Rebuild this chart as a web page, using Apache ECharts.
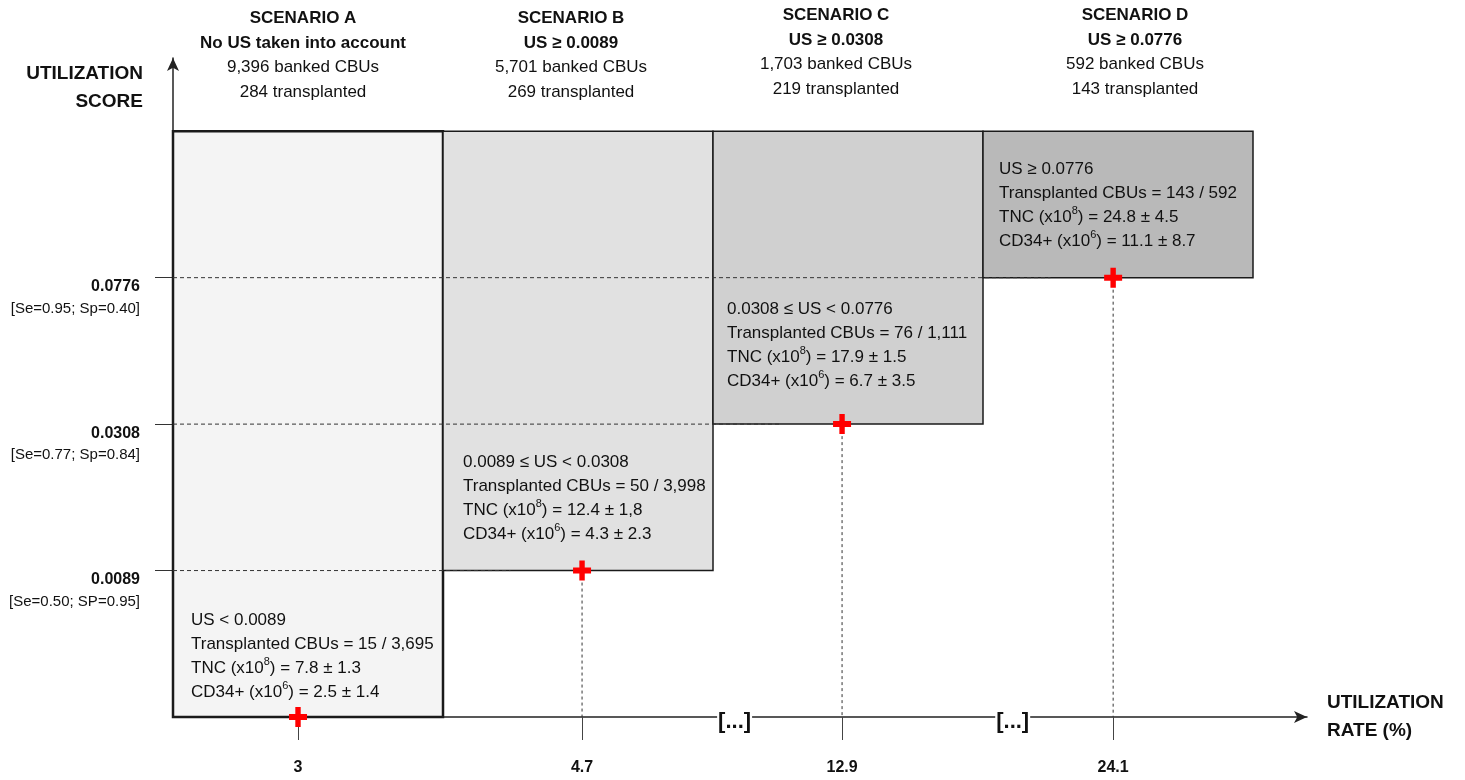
<!DOCTYPE html>
<html><head><meta charset="utf-8">
<script src="https://cdn.jsdelivr.net/npm/echarts@6/dist/echarts.min.js"></script>
<style>html,body{margin:0;padding:0;background:#fff}#c{width:1465px;height:780px}</style>
</head><body><div id="c"></div>
<script>
// ---------------- data ----------------
const scenarioNames = ['SCENARIO A', 'SCENARIO B', 'SCENARIO C', 'SCENARIO D'];
const scenarioRules = ['No US taken into account', 'US ≥ 0.0089', 'US ≥ 0.0308', 'US ≥ 0.0776'];
const bankedCBUs = [9396, 5701, 1703, 592];
const transplantedCBUs = [284, 269, 219, 143];
const utilizationRate = [3, 4.7, 12.9, 24.1];
const rateLabels = ['3', '4.7', '12.9', '24.1'];
const usThresholds = [0.0089, 0.0308, 0.0776];
const thresholdLabels = ['0.0089', '0.0308', '0.0776'];
const thresholdMetrics = ['[Se=0.50; SP=0.95]', '[Se=0.77; Sp=0.84]', '[Se=0.95; Sp=0.40]'];
const stratumRanges = ['US < 0.0089', '0.0089 ≤ US < 0.0308', '0.0308 ≤ US < 0.0776', 'US ≥ 0.0776'];
const stratumTransplanted = [15, 50, 76, 143];
const stratumBanked = [3695, 3998, 1111, 592];
const tncMean = ['7.8', '12.4', '17.9', '24.8'];
const tncSd = ['1.3', '1,8', '1.5', '4.5'];
const cd34Mean = ['2.5', '4.3', '6.7', '11.1'];
const cd34Sd = ['1.4', '2.3', '3.5', '8.7'];

// ---------------- layout / style ----------------
const boxFills = ['#f4f4f4', '#e1e1e1', '#d0d0d0', '#b9b9b9'];
const TEXT_DX = [18, 20, 14, 16];
const TEXT_DY = [25, 36, 43, 36];
const HEAD_DX = [-5, -7, -12, 17];
const HEAD_DY = [0, 0, -3, -3];
const RATE_SHIFT = [-0.037, 0.015, -0.022, -0.018];
const TOP_LEVEL = usThresholds.length + 1;
const BREAKS = [2.08, 3.11];

const cv = document.createElement('canvas').getContext('2d');
cv.font = "40px 'Liberation Sans Narrow', monospace";
const w1 = cv.measureText('Transplanted CBUs 0123').width;
cv.font = "40px monospace";
const w2 = cv.measureText('Transplanted CBUs 0123').width;
const NARROW = Math.abs(w1 - w2) > 0.5;
const FONT = NARROW ? "'Liberation Sans Narrow', 'Liberation Sans', sans-serif" : "'Liberation Sans', Arial, sans-serif";
const fs = a => NARROW ? Math.round(a * 1.21) : a;
const fmt = n => n.toLocaleString('en-US');

// level of each scenario's lower US bound (0 = no bound)
const scenarioLevel = scenarioNames.map((s, i) => i === 0 ? 0 : usThresholds.indexOf(usThresholds[i - 1]) + 1);
const ratePos = utilizationRate.map((r, i) => i + 0.5 + RATE_SHIFT[i]);

function statsText(i) {
  return [
    `{n|${stratumRanges[i]}}`,
    `{n|Transplanted CBUs = ${fmt(stratumTransplanted[i])} / ${fmt(stratumBanked[i])}}`,
    `{n|TNC (x10}{sup|8}{n|) = ${tncMean[i]} ± ${tncSd[i]}}`,
    `{n|CD34+ (x10}{sup|6}{n|) = ${cd34Mean[i]} ± ${cd34Sd[i]}}`
  ].join('\n');
}
function headText(i) {
  return `{b|${scenarioNames[i]}}\n{b|${scenarioRules[i]}}\n{n|${fmt(bankedCBUs[i])} banked CBUs}\n{n|${transplantedCBUs[i]} transplanted}`;
}
const statRich = {
  n: { fontFamily: FONT, fontSize: fs(17), lineHeight: 24, fill: '#111' },
  sup: { fontFamily: FONT, fontSize: fs(11), lineHeight: 18, fill: '#111', verticalAlign: 'top' }
};
const headRich = {
  b: { fontFamily: FONT, fontSize: fs(17), fontWeight: 'bold', lineHeight: 24.5, fill: '#111' },
  n: { fontFamily: FONT, fontSize: fs(17), lineHeight: 24.5, fill: '#111' }
};

const chart = echarts.init(document.getElementById('c'));
chart.setOption({
  animation: false,
  backgroundColor: '#fff',
  grid: { left: 173, right: 158, top: 58, bottom: 63, outerBoundsMode: 'none', containLabel: false },
  xAxis: {
    type: 'value', min: 0, max: 4.2,
    name: 'UTILIZATION\nRATE (%)', nameLocation: 'end', nameGap: 20,
    nameTextStyle: { fontFamily: FONT, fontSize: fs(19), fontWeight: 'bold', color: '#111', lineHeight: 28, align: 'left', verticalAlign: 'middle', padding: [42, 0, 0, 0] },
    splitLine: { show: false },
    axisLine: { show: true, symbol: ['none', 'arrow'], symbolSize: [9, 13], lineStyle: { color: '#222', width: 1.5 } },
    axisTick: { show: true, customValues: ratePos, length: 23, lineStyle: { color: '#444', width: 1 } },
    axisLabel: {
      customValues: ratePos, margin: 43,
      fontFamily: FONT, fontSize: fs(16), fontWeight: 'bold', color: '#111',
      formatter: v => { const i = ratePos.findIndex(p => Math.abs(p - v) < 1e-6); return i >= 0 ? rateLabels[i] : ''; }
    }
  },
  yAxis: {
    type: 'value', min: 0, max: 4.5,
    name: 'UTILIZATION\nSCORE', nameLocation: 'end', nameGap: 0,
    nameTextStyle: { fontFamily: FONT, fontSize: fs(19), fontWeight: 'bold', color: '#111', lineHeight: 28, align: 'right', verticalAlign: 'top', padding: [2, 30, 0, 0] },
    splitLine: { show: false },
    axisLine: { show: true, symbol: ['none', 'arrow'], symbolSize: [9, 13], lineStyle: { color: '#222', width: 1.5 } },
    axisTick: { show: true, customValues: [1, 2, 3], length: 18, lineStyle: { color: '#333', width: 1 } },
    axisLabel: {
      customValues: [1, 2, 3], margin: 33, align: 'right', verticalAlign: 'top',
      formatter: v => { const k = Math.round(v) - 1; return `{v|${thresholdLabels[k]}}\n{s|${thresholdMetrics[k]}}`; },
      rich: {
        v: { fontFamily: FONT, fontSize: fs(16), fontWeight: 'bold', color: '#111', lineHeight: 18, align: 'right' },
        s: { fontFamily: FONT, fontSize: fs(15), color: '#111', lineHeight: 26, align: 'right' }
      }
    }
  },
  series: [
    {
      type: 'custom', name: 'boxes', clip: false, z: 1,
      data: scenarioNames.map((s, i) => [i, scenarioLevel[i]]),
      renderItem: (params, api) => {
        const i = api.value(0), lvl = api.value(1);
        const pBL = api.coord([i, lvl]);
        const pTR = api.coord([i + 1, TOP_LEVEL]);
        const x0 = pBL[0], y1 = pBL[1], x1 = pTR[0], y0 = pTR[1];
        return {
          type: 'group', children: [
            { type: 'rect', shape: { x: x0, y: y0, width: x1 - x0, height: y1 - y0 },
              style: { fill: boxFills[i], stroke: '#1a1a1a', lineWidth: i === 0 ? 2.5 : 1.5 } },
            { type: 'text', x: x0 + TEXT_DX[i], y: y1 - TEXT_DY[i] + 12,
              style: { text: statsText(i), rich: statRich, textAlign: 'left', verticalAlign: 'bottom' } },
            { type: 'text', x: (x0 + x1) / 2 + HEAD_DX[i], y: y0 - 27 + HEAD_DY[i],
              style: { text: headText(i), rich: headRich, textAlign: 'center', verticalAlign: 'bottom' } }
          ]
        };
      }
    },
    {
      type: 'custom', name: 'thresholdGuides', clip: false, z: 2,
      data: usThresholds.map((t, k) => [k + 1]),
      renderItem: (params, api) => {
        const lvl = api.value(0);
        const a = api.coord([0, lvl]), b = api.coord([lvl + 0.25, lvl]);
        return { type: 'line', shape: { x1: a[0], y1: a[1], x2: b[0], y2: b[1] },
          style: { stroke: '#333', lineWidth: 1, lineDash: [4, 3] } };
      }
    },
    {
      type: 'custom', name: 'rateGuides', clip: false, z: 2,
      data: utilizationRate.map((r, i) => [ratePos[i], scenarioLevel[i]]),
      renderItem: (params, api) => {
        const x = api.value(0), lvl = api.value(1);
        if (lvl <= 0) return null;
        const a = api.coord([x, lvl]), b = api.coord([x, 0]);
        return { type: 'line', shape: { x1: a[0], y1: a[1], x2: b[0], y2: b[1] },
          style: { stroke: '#333', lineWidth: 1, lineDash: [3, 3] } };
      }
    },
    {
      type: 'scatter', name: 'utilization', z: 5,
      symbol: 'path://M7,0H13V7H20V13H13V20H7V13H0V7H7Z', symbolSize: [18, 20],
      itemStyle: { color: '#ff0000', opacity: 1 },
      data: utilizationRate.map((r, i) => [ratePos[i], scenarioLevel[i]])
    }
  ]
});

chart.setOption({
  graphic: BREAKS.map(b => {
    const p = chart.convertToPixel({ gridIndex: 0 }, [b, 0]);
    return { type: 'text', x: p[0], y: p[1] + 5, z: 100,
      style: { text: '[...]', fontFamily: FONT, fontSize: fs(22), fontWeight: 'bold', fill: '#111',
        textAlign: 'center', verticalAlign: 'middle', backgroundColor: '#fff', padding: [0, 1] } };
  })
});
</script></body></html>
